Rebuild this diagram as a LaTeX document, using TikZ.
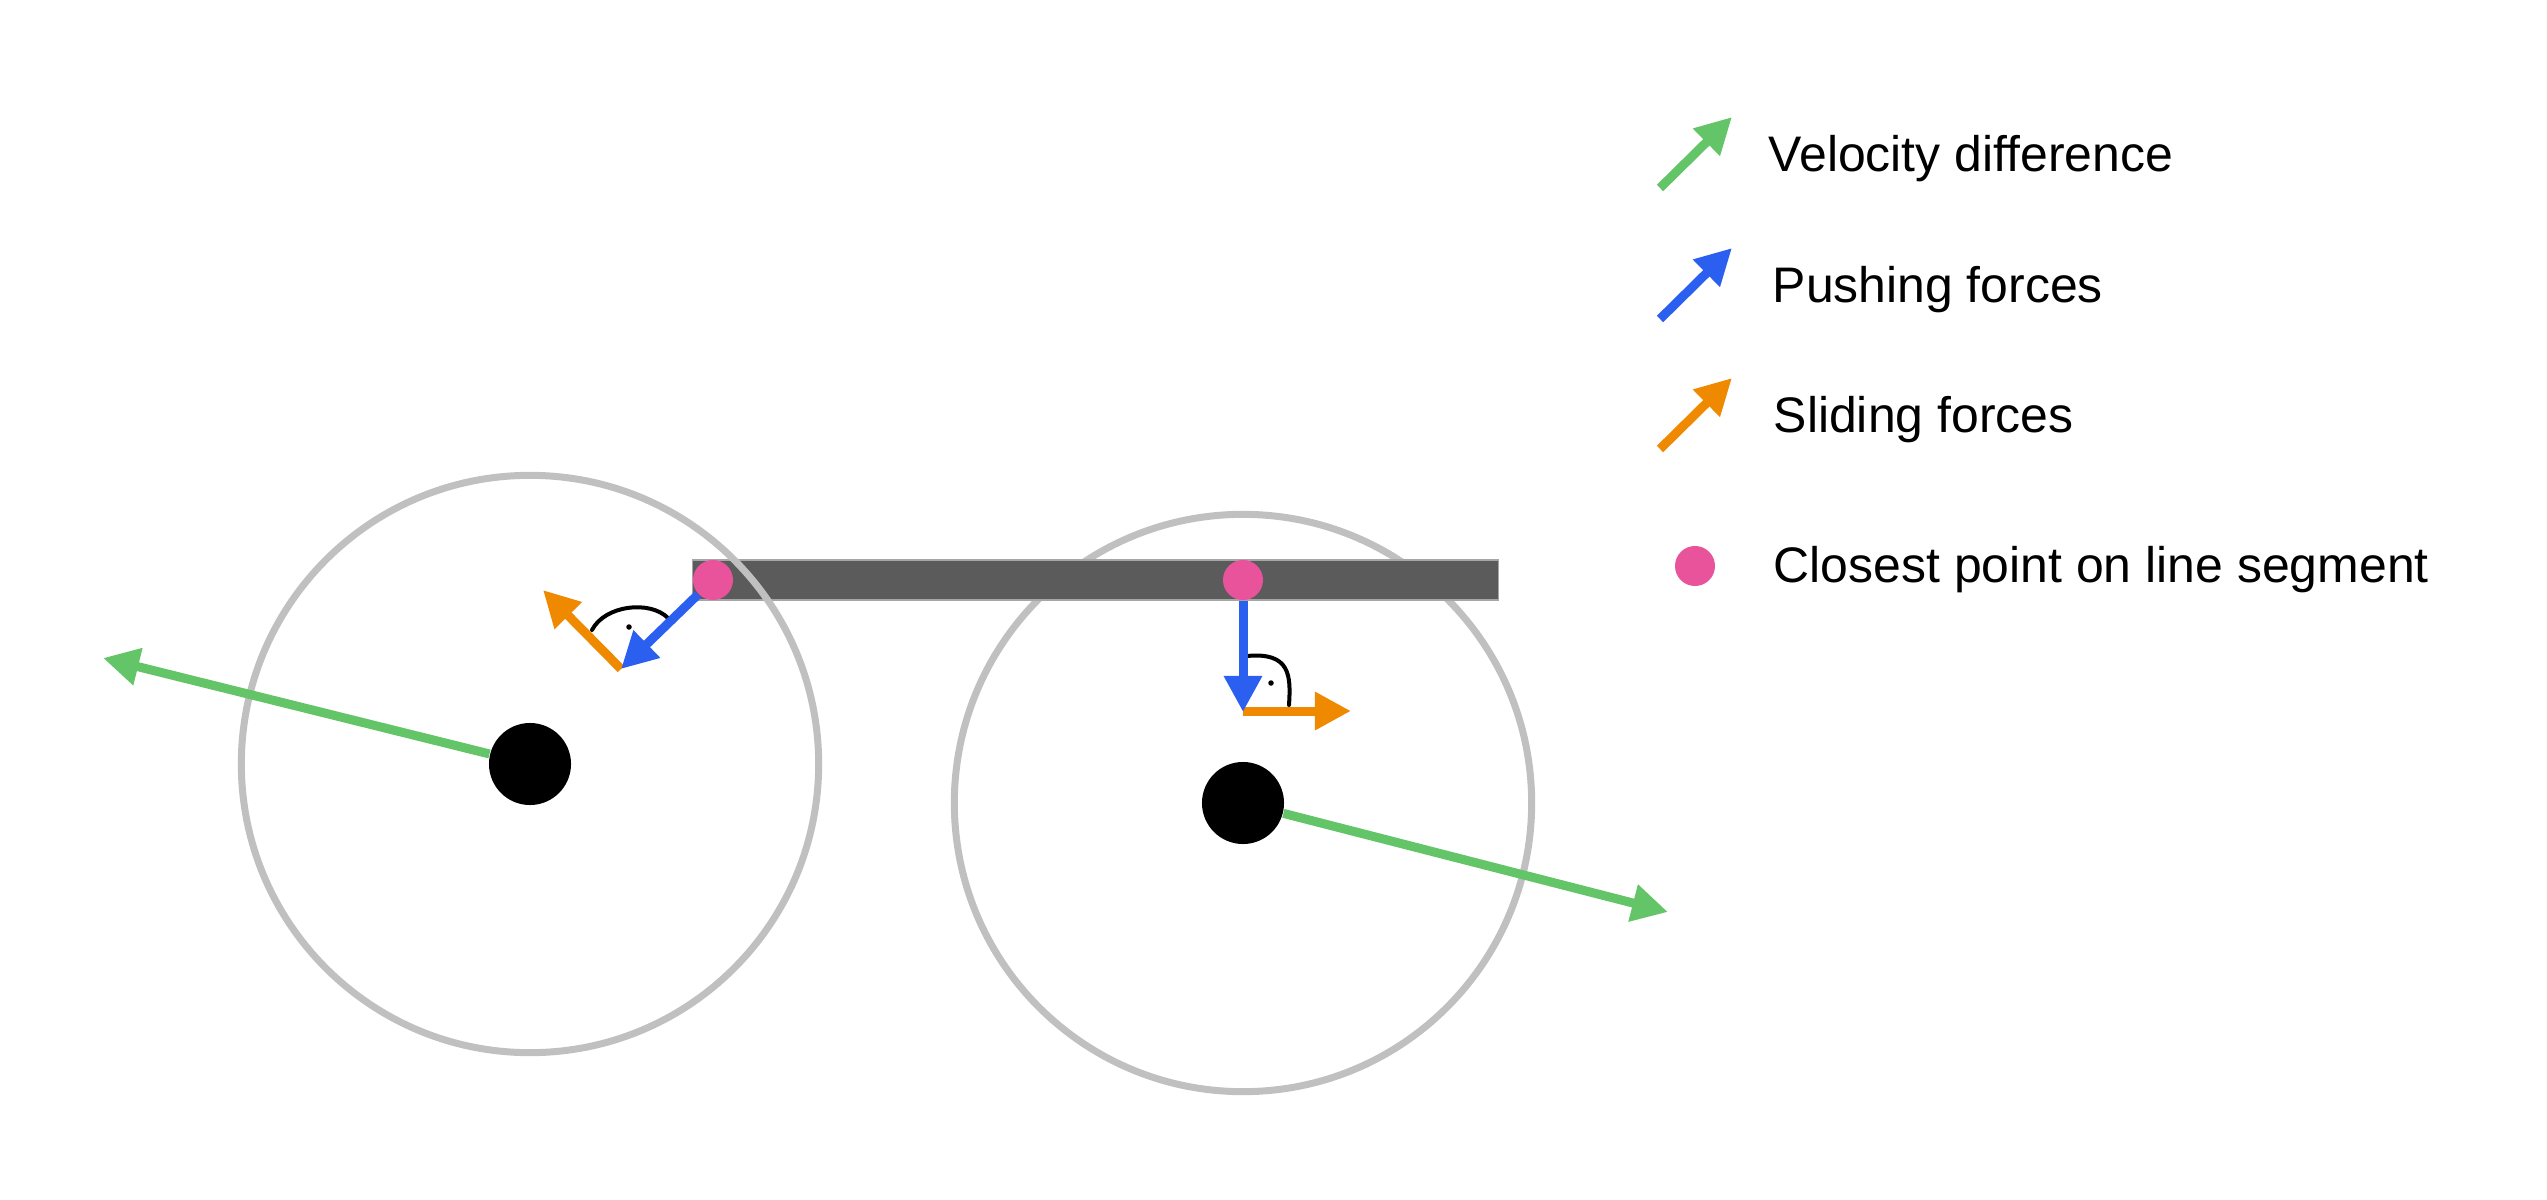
\documentclass[tikz,border=0pt]{standalone}
\usepackage{fontspec}
\setmainfont{Liberation Sans}
\usetikzlibrary{arrows.meta}
\definecolor{velgreen}{HTML}{63C567}
\definecolor{pushblue}{HTML}{2A5FF0}
\definecolor{slideorange}{HTML}{EF8A00}
\definecolor{contactpink}{HTML}{E8539B}
\definecolor{segmentgray}{HTML}{5B5B5B}
\definecolor{reachgray}{HTML}{C0C0C0}
\tikzset{
    reachcircle/.style={draw=reachgray, line width=0.07cm, circle, minimum size=5.77cm, inner sep=0pt},
    body/.style={fill=black, circle, minimum size=0.82cm, inner sep=0pt},
    contact/.style={fill=contactpink, circle, minimum size=0.4cm, inner sep=0pt},
    force/.style={line width=0.09cm, -{Triangle[length=0.36cm, width=0.36cm]}},
    velocity/.style={force, draw=velgreen},
    pushing/.style={force, draw=pushblue},
    sliding/.style={force, draw=slideorange},
    rightangle/.style={draw=black, line width=0.04cm, line cap=round},
    angledot/.style={fill=black, circle, minimum size=0.055cm, inner sep=0pt},
    legendtext/.style={anchor=base west, inner sep=0pt, font=\fontsize{14.2pt}{17pt}\selectfont}
}

\begin{document}
\begin{tikzpicture}[x=0.01cm, y=-0.01cm]
            \useasboundingbox (0,0) rectangle (2547,1200);

            \node[reachcircle] (reachR) at (1243,803) {};
            \node[fill=segmentgray, draw=black!35, line width=0.3pt, minimum width=8.05cm, minimum height=0.4cm, inner sep=0pt] (segment) at (1095.5,580) {};
            \node[reachcircle] (reachL) at (530,764) {};

            \node[body] (bodyL) at (530,764) {};
            \node[body] (bodyR) at (1243,803) {};
            \coordinate (velL) at (103,658);
            \coordinate (velR) at (1668,912);
            \draw[velocity] (bodyL) -- (velL);
            \draw[velocity] (bodyR) -- (velR);

            \coordinate (cornerL) at (621,669);
            \coordinate (slideL) at (543,590);
            \coordinate (cornerR) at (1243,711);
            \coordinate (slideR) at (1351,711);

            \draw[rightangle] (592,630) .. controls (605,605) and (650,600) .. (668,618);
            \node[angledot] (dotL) at (629,627) {};
            \draw[rightangle] (1247,656) .. controls (1290,652) and (1291,675) .. (1289,705);
            \node[angledot] (dotR) at (1271,683) {};

            \node[contact] (contactL) at (713,580) {};
            \node[contact] (contactR) at (1243,580) {};
            \draw[sliding] (cornerL) -- (slideL);
            \draw[pushing] (contactL) -- (cornerL);
            \draw[sliding] (cornerR) -- (slideR);
            \draw[pushing] (contactR) -- ([yshift=-0.01cm]cornerR);

            \coordinate (keyVelA) at (1660,188);
            \coordinate (keyVelB) at (1732,117);
            \coordinate (keyPushA) at (1660,319);
            \coordinate (keyPushB) at (1732,248);
            \coordinate (keySlideA) at (1660,449);
            \coordinate (keySlideB) at (1732,378);
            \draw[velocity] (keyVelA) -- (keyVelB);
            \draw[pushing] (keyPushA) -- (keyPushB);
            \draw[sliding] (keySlideA) -- (keySlideB);
            \node[contact] (keyContact) at (1695,566) {};

            \node[legendtext] (labelVel) at (1768,171) {Velocity difference};
            \node[legendtext] (labelPush) at (1772,302) {Pushing forces};
            \node[legendtext] (labelSlide) at (1773,432) {Sliding forces};
            \node[legendtext] (labelContact) at (1773,582) {Closest point on line segment};
\end{tikzpicture}
\end{document}
